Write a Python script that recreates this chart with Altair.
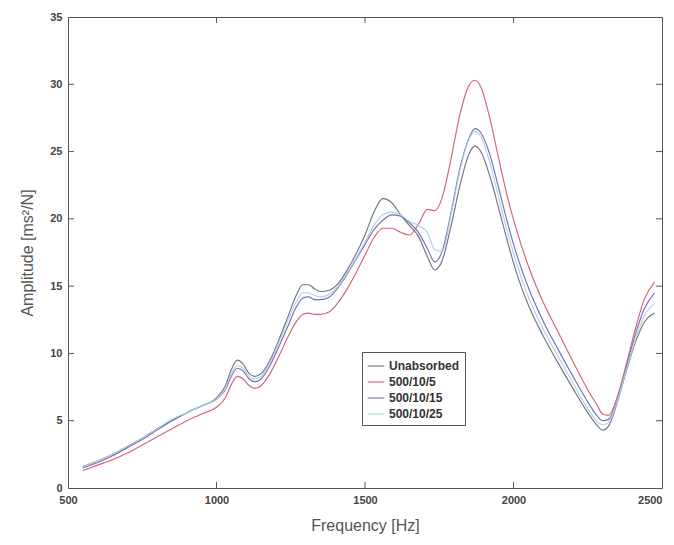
import altair as alt
import pandas as pd

freq = [550, 600, 650, 700, 750, 800, 850, 900, 950, 1000, 1030, 1050, 1070, 1090, 1110,
        1130, 1150, 1180, 1210, 1240, 1270, 1290, 1310, 1330, 1350, 1380, 1410, 1440, 1470,
        1500, 1530, 1560, 1590, 1620, 1650, 1680, 1710, 1735, 1760, 1790, 1820, 1850, 1870,
        1890, 1920, 1950, 1980, 2010, 2050, 2100, 2150, 2200, 2250, 2280, 2300, 2320, 2350,
        2380, 2410, 2440, 2475]

unabsorbed = [1.6, 2.0, 2.5, 3.1, 3.7, 4.4, 5.0, 5.6, 6.1, 6.7, 7.6, 8.8, 9.5, 9.2, 8.5,
              8.3, 8.5, 9.5, 11.0, 12.7, 14.4, 15.1, 15.1, 14.8, 14.6, 14.7, 15.2, 16.2, 17.4,
              18.8, 20.5, 21.5, 21.2, 20.3, 19.5, 18.7, 17.2, 16.2, 16.9, 19.5, 22.5, 24.8, 25.4,
              25.0, 23.2, 20.8, 18.3, 16.0, 13.6, 11.3, 9.3, 7.4, 5.6, 4.7, 4.3, 4.6, 6.4,
              8.7, 10.8, 12.3, 13.0]

s_5 = [1.3, 1.7, 2.1, 2.6, 3.2, 3.8, 4.4, 5.0, 5.5, 6.0, 6.7, 7.7, 8.3, 8.1, 7.6,
       7.4, 7.6, 8.5, 9.8, 11.2, 12.4, 12.9, 13.0, 12.9, 12.9, 13.1, 13.8, 14.8, 16.0,
       17.3, 18.6, 19.3, 19.3, 19.0, 18.8, 19.6, 20.7, 20.6, 21.6, 24.5, 27.8, 29.9, 30.3,
       29.8, 27.5, 24.5, 21.6, 19.2, 16.5, 13.8, 11.6, 9.4, 7.3, 6.2, 5.5, 5.4, 6.8,
       9.2, 11.8, 14.0, 15.3]

s_15 = [1.5, 1.9, 2.4, 3.0, 3.6, 4.3, 5.0, 5.6, 6.1, 6.6, 7.3, 8.3, 8.9, 8.7, 8.1,
        7.9, 8.1, 9.1, 10.5, 12.0, 13.5, 14.1, 14.2, 14.0, 14.0, 14.2, 14.9, 15.9, 17.0,
        18.1, 19.2, 19.9, 20.3, 20.2, 19.7, 19.0, 17.8, 16.8, 17.6, 20.5, 23.8, 26.0, 26.7,
        26.4, 24.8, 22.3, 19.7, 17.4, 14.9, 12.4, 10.3, 8.3, 6.4, 5.4, 5.0, 5.1, 6.6,
        9.0, 11.4, 13.3, 14.5]

s_25 = [1.6, 2.0, 2.5, 3.1, 3.7, 4.4, 5.1, 5.6, 6.1, 6.6, 7.4, 8.5, 9.1, 8.9, 8.3,
        8.1, 8.3, 9.3, 10.8, 12.4, 13.9, 14.5, 14.5, 14.3, 14.2, 14.4, 15.0, 16.0, 17.1,
        18.3, 19.5, 20.3, 20.5, 20.3, 19.8, 19.5, 19.0, 17.7, 17.6, 20.3, 23.6, 25.9, 26.5,
        26.1, 24.2, 21.6, 19.0, 16.7, 14.2, 11.8, 9.8, 7.8, 5.9, 5.0, 4.7, 4.9, 6.5,
        8.8, 11.0, 12.8, 13.7]

series_names = ["Unabsorbed", "500/10/5", "500/10/15", "500/10/25"]
series_values = [unabsorbed, s_5, s_15, s_25]
series_colors = ["#77707f", "#d3637a", "#7a6cbc", "#a9d5de"]

x_ticks = [500, 1000, 1500, 2000, 2500]
y_ticks = [0, 5, 10, 15, 20, 25, 30, 35]

rows = []
for name, vals in zip(series_names, series_values):
    for f, v in zip(freq, vals):
        rows.append({"Frequency": f, "Amplitude": v, "Series": name})
df = pd.DataFrame(rows)

W, H = 594, 471
FONT = "Liberation Sans"

xscale = alt.Scale(domain=[500, 2500], nice=False)
yscale = alt.Scale(domain=[0, 35], nice=False)

lines = alt.Chart(df).mark_line(strokeWidth=1.15, interpolate="monotone", clip=True).encode(
    x=alt.X("Frequency:Q", scale=xscale,
            axis=alt.Axis(values=x_ticks, title="Frequency [Hz]", grid=False, tickSize=0,
                          labelPadding=6, titlePadding=12, format="d", labelFlush=False,
                          labelOverlap=False,
                          labelAlign=alt.ExprRef(expr="datum.value >= 2500 ? 'right' : 'center'"))),
    y=alt.Y("Amplitude:Q", scale=yscale,
            axis=alt.Axis(values=y_ticks, title="Amplitude [ms²/N]", grid=False, tickSize=0,
                          labelPadding=6, titlePadding=14, labelFlush=False,
                          labelOverlap=False)),
    color=alt.Color("Series:N",
                    scale=alt.Scale(domain=series_names, range=series_colors),
                    sort=series_names,
                    legend=alt.Legend(orient="none", legendX=294, legendY=335, title=None,
                                      symbolType="stroke", symbolSize=280, symbolStrokeWidth=1.1,
                                      strokeColor="#555", fillColor="white", padding=5,
                                      labelFont=FONT, labelFontSize=12, labelColor="#333",
                                      labelFontWeight="bold", rowPadding=1)),
    detail="Series:N",
)

xt = pd.DataFrame({"t": x_ticks[1:-1]})
yt = pd.DataFrame({"t": y_ticks[1:-1]})

tick_bottom = alt.Chart(xt).mark_rule(color="#555").encode(
    x=alt.X("t:Q", scale=xscale), y=alt.value(H), y2=alt.value(H - 6))
tick_top = alt.Chart(xt).mark_rule(color="#555").encode(
    x=alt.X("t:Q", scale=xscale), y=alt.value(0), y2=alt.value(6))
tick_left = alt.Chart(yt).mark_rule(color="#555").encode(
    y=alt.Y("t:Q", scale=yscale), x=alt.value(0), x2=alt.value(6))
tick_right = alt.Chart(yt).mark_rule(color="#555").encode(
    y=alt.Y("t:Q", scale=yscale), x=alt.value(W), x2=alt.value(W - 6))

chart = alt.layer(lines, tick_bottom, tick_top, tick_left, tick_right).properties(
    width=W, height=H,
    autosize=alt.AutoSizeParams(type="none"),
    padding={"left": 60, "top": 9, "right": 4, "bottom": 50},
    background="white",
).configure_view(
    stroke="#555", strokeWidth=1
).configure_axis(
    domain=False,
    labelFont=FONT, labelFontSize=11, labelColor="#444", labelFontWeight="bold",
    titleFont=FONT, titleFontSize=16, titleColor="#555", titleFontWeight="normal",
)

chart.save("out.html", embed_options={"renderer": "svg", "actions": False})
